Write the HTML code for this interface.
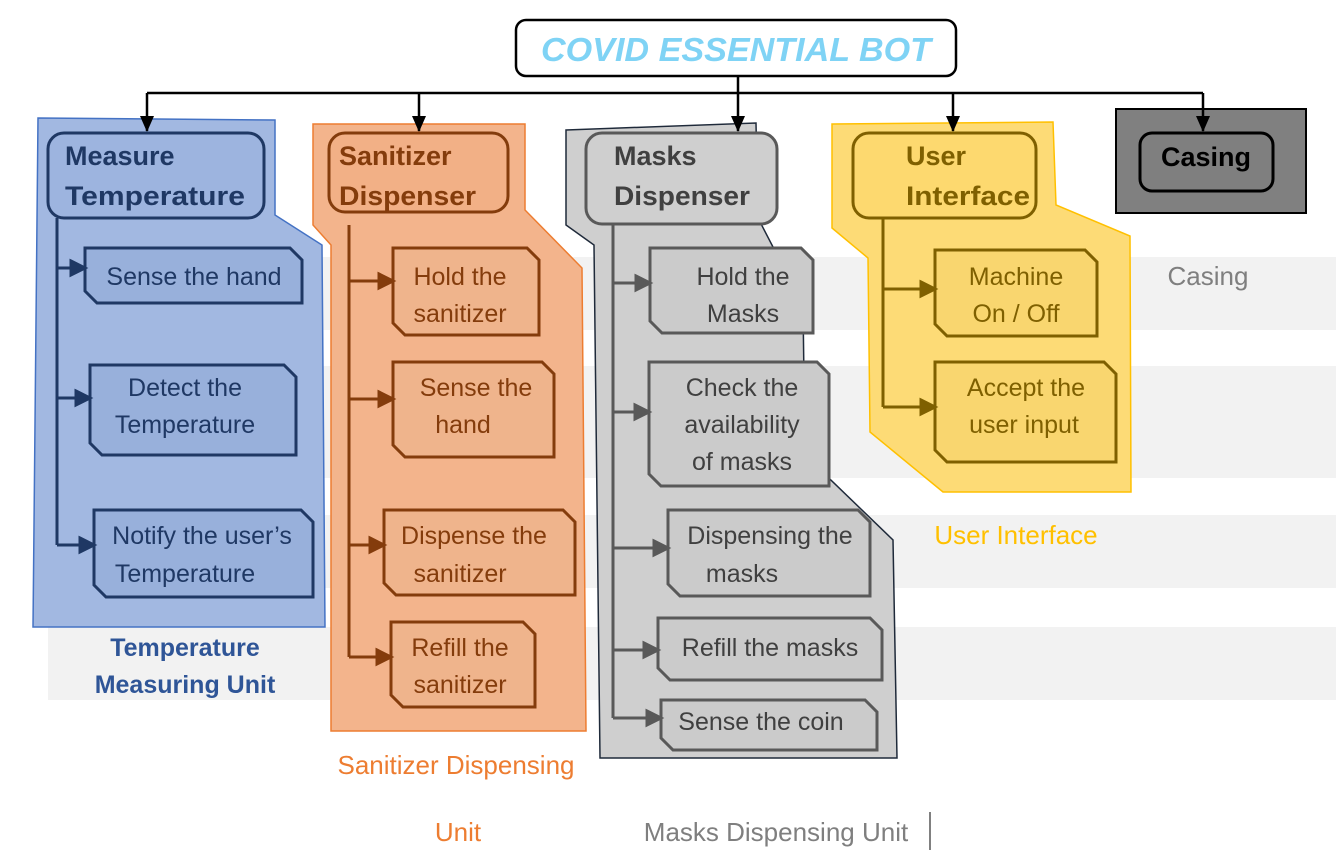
<!DOCTYPE html>
<html><head><meta charset="utf-8"><style>
html,body{margin:0;padding:0;background:#fff;}
svg{display:block;font-family:"Liberation Sans",sans-serif;}
</style></head><body>
<svg width="1336" height="859" viewBox="0 0 1336 859" xmlns="http://www.w3.org/2000/svg">
<defs>
<marker id="ab" markerWidth="16" markerHeight="16" refX="15" refY="8" orient="auto" markerUnits="userSpaceOnUse"><path d="M0,1 L16,8 L0,15z" fill="#000"/></marker>
</defs>
<g fill="#f2f2f2">
<rect x="48" y="257" width="1288" height="73"/>
<rect x="48" y="366" width="1288" height="112"/>
<rect x="48" y="515" width="1288" height="73"/>
<rect x="48" y="627" width="1288" height="73"/>
</g>
<polygon points="38,118 275,120 275,215 322,245 325,627 33,627" fill="#9db4df" fill-opacity="0.95" stroke="#4472c4" stroke-width="1.5"/>
<polygon points="313,124 525,124 525,210 582,268 586,731 331,731 331,245 313,225" fill="#f2b086" fill-opacity="0.95" stroke="#ed7d31" stroke-width="1.5"/>
<polygon points="566,130 756,123 758,218 803,305 805,455 893,540 897,758 600,758 594,245 566,225" fill="#cccccc" fill-opacity="0.95" stroke="#1f2a3a" stroke-width="1.5"/>
<polygon points="832,124 1053,122 1056,205 1130,236 1131,492 943,492 870,432 868,258 832,228" fill="#fdd96f" fill-opacity="0.95" stroke="#ffc000" stroke-width="1.5"/>
<rect x="1116" y="109" width="190" height="104" fill="#808080" stroke="#000" stroke-width="2"/>
<rect x="1140" y="133" width="133" height="58" rx="12" fill="#7f7f7f" stroke="#000" stroke-width="3"/>
<text x="1206" y="166" font-size="27" font-weight="bold" text-anchor="middle" fill="#000">Casing</text>
<rect x="516" y="20" width="440" height="56" rx="10" fill="#fff" stroke="#000" stroke-width="2.5"/>
<text x="736" y="61" font-size="33" font-style="italic" font-weight="bold" text-anchor="middle" fill="#7fd3f5" textLength="390" lengthAdjust="spacingAndGlyphs">COVID ESSENTIAL BOT</text>
<g stroke="#000" stroke-width="2.5" fill="none">
<line x1="738" y1="76" x2="738" y2="93"/>
<line x1="147" y1="93" x2="1203" y2="93"/>
<line x1="147" y1="93" x2="147" y2="131" marker-end="url(#ab)"/>
<line x1="419" y1="93" x2="419" y2="131" marker-end="url(#ab)"/>
<line x1="738" y1="93" x2="738" y2="131" marker-end="url(#ab)"/>
<line x1="953" y1="93" x2="953" y2="131" marker-end="url(#ab)"/>
<line x1="1203" y1="93" x2="1203" y2="131" marker-end="url(#ab)"/>
</g>
<g stroke-width="3">
<rect x="48" y="133" width="216" height="85" rx="16" fill="#9db4df" stroke="#1f3864"/>
<rect x="329" y="133" width="179" height="79" rx="16" fill="#f2b086" stroke="#843c0c"/>
<rect x="586" y="133" width="191" height="91" rx="16" fill="#cfcfcf" stroke="#595959"/>
<rect x="853" y="133" width="183" height="85" rx="16" fill="#fdd96f" stroke="#7f6000"/>
</g>
<g font-size="27" font-weight="bold">
<text x="65" y="165" fill="#1f3864">Measure</text><text x="65" y="205" fill="#1f3864" textLength="180" lengthAdjust="spacingAndGlyphs">Temperature</text>
<text x="339" y="165" fill="#843c0c">Sanitizer</text><text x="339" y="205" fill="#843c0c" textLength="137" lengthAdjust="spacingAndGlyphs">Dispenser</text>
<text x="614" y="165" fill="#404040">Masks</text><text x="614" y="205" fill="#404040" textLength="136" lengthAdjust="spacingAndGlyphs">Dispenser</text>
<text x="906" y="165" fill="#7f6000">User</text><text x="906" y="205" fill="#7f6000" textLength="124" lengthAdjust="spacingAndGlyphs">Interface</text>
</g>
<g stroke-width="3" fill="none">
<path d="M57,218 V545" stroke="#1f3864"/>
<path d="M349,225 V657" stroke="#843c0c"/>
<path d="M613,224 V718" stroke="#595959"/>
<path d="M883,218 V407" stroke="#7f6000"/>
</g>
<g stroke-width="3">
<g fill="#98b0db" stroke="#1f3864">
<path d="M85,248 H290 L302,260 V303 H97 L85,291z"/>
<path d="M90,365 H284 L296,377 V455 H102 L90,443z"/>
<path d="M94,510 H301 L313,522 V597 H106 L94,585z"/>
</g>
<g fill="#efb48c" stroke="#843c0c">
<path d="M393,248 H527 L539,260 V335 H405 L393,323z"/>
<path d="M393,362 H542 L554,374 V457 H405 L393,445z"/>
<path d="M384,510 H563 L575,522 V595 H396 L384,583z"/>
<path d="M391,622 H523 L535,634 V707 H403 L391,695z"/>
</g>
<g fill="#cbcbcb" stroke="#595959">
<path d="M650,248 H801 L813,260 V333 H662 L650,321z"/>
<path d="M649,362 H817 L829,374 V486 H661 L649,474z"/>
<path d="M668,510 H858 L870,522 V596 H680 L668,584z"/>
<path d="M658,618 H870 L882,630 V680 H670 L658,668z"/>
<path d="M661,700 H865 L877,712 V750 H673 L661,738z"/>
</g>
<g fill="#f9d66f" stroke="#7f6000">
<path d="M935,250 H1085 L1097,262 V336 H947 L935,324z"/>
<path d="M935,362 H1104 L1116,374 V462 H947 L935,450z"/>
</g>
</g>
<g stroke-width="3">
<g stroke="#1f3864" fill="#1f3864">
<line x1="57" y1="268" x2="72" y2="268"/><path d="M71,261 L85,268 L71,275z"/>
<line x1="57" y1="398" x2="77" y2="398"/><path d="M76,391 L90,398 L76,405z"/>
<line x1="57" y1="545" x2="81" y2="545"/><path d="M80,538 L94,545 L80,552z"/>
</g>
<g stroke="#843c0c" fill="#843c0c">
<line x1="349" y1="281" x2="380" y2="281"/><path d="M379,274 L393,281 L379,288z"/>
<line x1="349" y1="399" x2="380" y2="399"/><path d="M379,392 L393,399 L379,406z"/>
<line x1="349" y1="545" x2="371" y2="545"/><path d="M370,538 L384,545 L370,552z"/>
<line x1="349" y1="657" x2="378" y2="657"/><path d="M377,650 L391,657 L377,664z"/>
</g>
<g stroke="#595959" fill="#595959">
<line x1="613" y1="283" x2="637" y2="283"/><path d="M636,276 L650,283 L636,290z"/>
<line x1="613" y1="412" x2="636" y2="412"/><path d="M635,405 L649,412 L635,419z"/>
<line x1="613" y1="548" x2="655" y2="548"/><path d="M654,541 L668,548 L654,555z"/>
<line x1="613" y1="650" x2="645" y2="650"/><path d="M644,643 L658,650 L644,657z"/>
<line x1="613" y1="718" x2="648" y2="718"/><path d="M647,711 L661,718 L647,725z"/>
</g>
<g stroke="#7f6000" fill="#7f6000">
<line x1="883" y1="289" x2="922" y2="289"/><path d="M921,282 L935,289 L921,296z"/>
<line x1="883" y1="407" x2="922" y2="407"/><path d="M921,400 L935,407 L921,414z"/>
</g>
</g>
<g font-size="25" text-anchor="middle">
<g fill="#1f3864">
<text x="194" y="285">Sense the hand</text>
<text x="185" y="396">Detect the</text><text x="185" y="433">Temperature</text>
<text x="202" y="544">Notify the user’s</text><text x="185" y="582">Temperature</text>
</g>
<g fill="#843c0c">
<text x="460" y="285">Hold the</text><text x="460" y="322">sanitizer</text>
<text x="476" y="396">Sense the</text><text x="463" y="433">hand</text>
<text x="474" y="544">Dispense the</text><text x="460" y="582">sanitizer</text>
<text x="460" y="656">Refill the</text><text x="460" y="693">sanitizer</text>
</g>
<g fill="#404040">
<text x="743" y="285">Hold the</text><text x="743" y="322">Masks</text>
<text x="742" y="396">Check the</text><text x="742" y="433">availability</text><text x="742" y="470">of masks</text>
<text x="770" y="544">Dispensing the</text><text x="742" y="582">masks</text>
<text x="770" y="656">Refill the masks</text>
<text x="761" y="730">Sense the coin</text>
</g>
<g fill="#7f6000">
<text x="1016" y="285">Machine</text><text x="1016" y="322">On / Off</text>
<text x="1026" y="396">Accept the</text><text x="1024" y="433">user input</text>
</g>
</g>
<g font-size="26" text-anchor="middle">
<text x="1208" y="285" fill="#7f7f7f">Casing</text>
<text x="1016" y="544" fill="#ffc000">User Interface</text>
<text x="185" y="656" fill="#2f5597" font-weight="bold" font-size="25">Temperature</text>
<text x="185" y="693" fill="#2f5597" font-weight="bold" font-size="25">Measuring Unit</text>
<text x="456" y="774" fill="#ed7d31">Sanitizer Dispensing</text>
<text x="458" y="841" fill="#ed7d31">Unit</text>
<text x="776" y="841" fill="#7f7f7f">Masks Dispensing Unit</text>
</g>
<line x1="930" y1="812" x2="930" y2="850" stroke="#000" stroke-width="1"/>
</svg>
</body></html>
